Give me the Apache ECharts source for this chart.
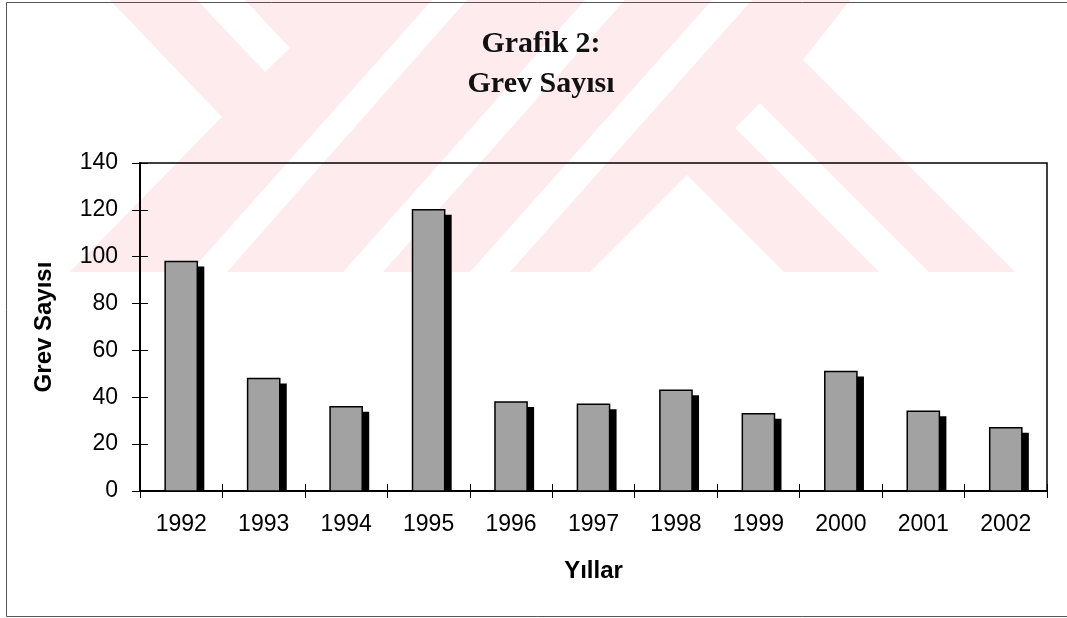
<!DOCTYPE html>
<html>
<head>
<meta charset="utf-8">
<script src="https://cdn.jsdelivr.net/npm/echarts@6/dist/echarts.min.js"></script>
<style>
html,body{margin:0;padding:0;background:#fff;}
#chart{width:1067px;height:618px;}
</style>
</head>
<body>
<div id="chart"></div>
<script>
// ---- data ----
const years = ['1992','1993','1994','1995','1996','1997','1998','1999','2000','2001','2002'];
const strikes = [98, 48, 36, 120, 38, 37, 43, 33, 51, 34, 27];
const titleLines = ['Grafik 2:', 'Grev Sayısı'];
const yAxisTitle = 'Grev Sayısı';
const xAxisTitle = 'Yıllar';
const yMin = 0, yMax = 140, yStep = 20;

// ---- decoration (background watermark + page frame) ----
const PINK = '#fdebee';
function poly(points, fill, z) {
  return { type: 'polygon', silent: true, z: z, shape: { points: points }, style: { fill: fill } };
}
const watermark = [
  poly([[110,0],[850,0],[803,60],[1015,272],[70,272],[222,117]], PINK, -20),
  poly([[197,0],[245,0],[290,48],[265,72]], '#fff', -19),
  poly([[190,272],[227,272],[467,0],[432,0]], '#fff', -19),
  poly([[343,272],[383,272],[625,0],[585,0]], '#fff', -19),
  poly([[470,272],[510,272],[752,0],[712,0]], '#fff', -19),
  poly([[590,272],[687,175],[784,272]], '#fff', -19),
  poly([[735,128],[760,103],[929,272],[879,272]], '#fff', -19)
];
const frame = {
  type: 'polyline', silent: true, z: 50,
  shape: { points: [[1070,2.5],[6.5,2.5],[6.5,616.5],[1070,616.5]] },
  style: { stroke: '#555', lineWidth: 1, fill: null }
};

const chart = echarts.init(document.getElementById('chart'), null, { renderer: 'canvas' });

const axisFont = { fontFamily: 'Liberation Sans, Arial, sans-serif', color: '#000' };

const option = {
  backgroundColor: '#fff',
  animation: false,
  title: {
    text: titleLines.join('\n'),
    left: 536,
    textAlign: 'center',
    top: 19,
    textStyle: {
      fontFamily: 'Liberation Serif, Times New Roman, serif',
      fontWeight: 'bold',
      fontSize: 30,
      lineHeight: 40,
      color: '#111'
    }
  },
  graphic: watermark.concat([frame]),
  grid: {
    left: 140, right: 20, top: 163, bottom: 127,
    show: true, borderColor: '#000', borderWidth: 1.5, backgroundColor: 'transparent'
  },
  xAxis: [
    {
      type: 'category',
      data: years,
      position: 'bottom',
      name: xAxisTitle,
      nameLocation: 'middle',
      nameGap: 68,
      nameTextStyle: Object.assign({ fontSize: 24, fontWeight: 'bold' }, axisFont),
      axisLine: { show: true, lineStyle: { color: '#000', width: 2 } },
      axisTick: { show: true, inside: false, length: 7, lineStyle: { color: '#000', width: 1 } },
      axisLabel: Object.assign({ fontSize: 23, margin: 22 }, axisFont),
      splitLine: { show: false }
    },
    {
      type: 'category',
      data: years,
      position: 'bottom',
      offset: 0,
      axisLine: { show: false },
      axisTick: { show: true, inside: true, length: 7, lineStyle: { color: '#000', width: 1 } },
      axisLabel: { show: false },
      splitLine: { show: false }
    }
  ],
  yAxis: [
    {
      type: 'value',
      min: yMin, max: yMax, interval: yStep,
      position: 'left',
      name: yAxisTitle,
      nameLocation: 'middle',
      nameGap: 84,
      nameRotate: 90,
      nameTextStyle: Object.assign({ fontSize: 24, fontWeight: 'bold' }, axisFont),
      axisLine: { show: true, lineStyle: { color: '#000', width: 2 } },
      axisTick: { show: true, inside: false, length: 8, lineStyle: { color: '#000', width: 1 } },
      axisLabel: Object.assign({ fontSize: 23, margin: 22 }, axisFont),
      splitLine: { show: false }
    },
    {
      type: 'value',
      min: yMin, max: yMax, interval: yStep,
      position: 'left',
      offset: 0,
      axisLine: { show: false },
      axisTick: { show: true, inside: true, length: 8, lineStyle: { color: '#000', width: 1 } },
      axisLabel: { show: false },
      splitLine: { show: false }
    }
  ],
  series: [
    {
      type: 'custom',
      name: yAxisTitle,
      xAxisIndex: 0,
      yAxisIndex: 0,
      z: 5,
      data: strikes.map((v, i) => [i, v]),
      renderItem: function (params, api) {
        const idx = api.value(0);
        const val = api.value(1);
        const top = api.coord([idx, val]);
        const base = api.coord([idx, 0]);
        const band = api.size([1, 0])[0];
        const w = band * 0.39;
        const dx = 7, dy = 5;
        return {
          type: 'group',
          children: [
            {
              type: 'rect',
              shape: { x: top[0] - w / 2 + dx, y: top[1] + dy, width: w, height: Math.max(0, base[1] - top[1] - dy) },
              style: { fill: '#000' }
            },
            {
              type: 'rect',
              shape: { x: top[0] - w / 2, y: top[1], width: w, height: base[1] - top[1] },
              style: { fill: '#a2a2a2', stroke: '#000', lineWidth: 1.5 }
            }
          ]
        };
      }
    }
  ]
};

chart.setOption(option);
</script>
</body>
</html>
